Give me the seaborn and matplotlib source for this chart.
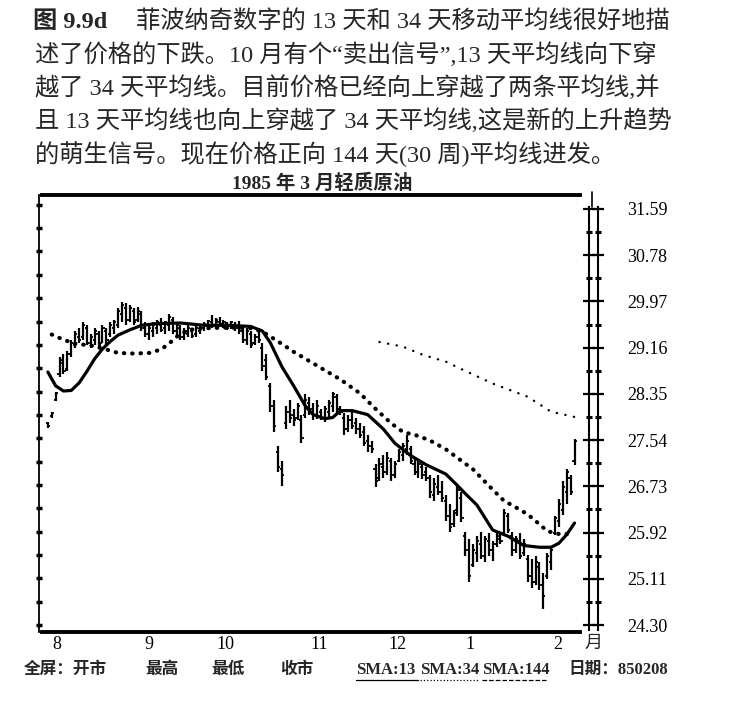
import matplotlib

matplotlib.use("Agg")
import matplotlib.pyplot as plt
import numpy as np
import pandas as pd
import seaborn as sns
from matplotlib.lines import Line2D

# bar data, one entry per trading day (Aug 1984 - Feb 8 1985)
highs = [
    27.82, 28.00, 28.35, 28.95, 29.00, 29.05, 29.25, 29.40, 29.45, 29.55,
    29.50, 29.35, 29.45, 29.40, 29.50, 29.45, 29.55, 29.60, 29.80, 29.90,
    29.88, 29.85, 29.80, 29.82, 29.75, 29.55, 29.50, 29.55, 29.60, 29.62,
    29.58, 29.70, 29.65, 29.55, 29.50, 29.45, 29.50, 29.45, 29.48, 29.52,
    29.55, 29.60, 29.68, 29.62, 29.65, 29.60, 29.55, 29.58, 29.55, 29.58,
    29.50, 29.45, 29.40, 29.35, 29.45, 29.20, 29.00, 28.50, 28.20, 27.40,
    27.15, 28.10, 28.20, 28.05, 28.15, 27.95, 28.30, 28.25, 28.15, 28.20,
    28.05, 28.10, 28.20, 28.35, 28.30, 28.10, 27.98, 27.95, 28.00, 27.90,
    27.80, 27.75, 27.60, 27.50, 27.10, 27.20, 27.25, 27.30, 27.20, 27.15,
    27.35, 27.45, 27.60, 27.40, 27.18, 27.15, 27.10, 27.05, 26.91, 26.85,
    26.90, 26.80, 26.56, 26.40, 26.30, 26.73, 26.60, 25.92, 25.80, 25.70,
    25.85, 25.92, 25.85, 25.90, 25.75, 25.92, 25.88, 26.32, 26.25, 25.92,
    25.85, 25.90, 25.80, 25.52, 25.45, 25.50, 25.40, 25.20, 25.55, 25.65,
    26.20, 26.49, 26.80, 27.01, 26.90, 27.53,
]
lows = [
    27.72, 27.90, 28.18, 28.60, 28.65, 28.70, 28.95, 29.10, 29.20, 29.25,
    29.15, 29.10, 29.15, 29.10, 29.20, 29.15, 29.30, 29.35, 29.45, 29.55,
    29.50, 29.55, 29.50, 29.55, 29.40, 29.30, 29.25, 29.30, 29.35, 29.38,
    29.35, 29.40, 29.35, 29.30, 29.25, 29.25, 29.30, 29.28, 29.30, 29.35,
    29.40, 29.42, 29.45, 29.45, 29.48, 29.45, 29.42, 29.44, 29.40, 29.35,
    29.20, 29.15, 29.10, 29.15, 29.20, 28.70, 28.55, 28.00, 27.65, 26.95,
    26.72, 27.70, 27.80, 27.75, 27.85, 27.45, 27.90, 27.95, 27.85, 27.88,
    27.85, 27.83, 27.90, 28.00, 27.97, 27.95, 27.60, 27.65, 27.70, 27.62,
    27.55, 27.40, 27.30, 27.28, 26.70, 26.80, 26.85, 26.90, 26.80, 26.85,
    27.13, 27.15, 27.25, 27.10, 26.90, 26.85, 26.84, 26.80, 26.50, 26.45,
    26.55, 26.44, 26.10, 25.92, 26.00, 26.20, 26.09, 25.50, 25.05, 25.30,
    25.40, 25.45, 25.40, 25.50, 25.42, 25.65, 25.70, 25.86, 25.90, 25.50,
    25.55, 25.45, 25.50, 25.05, 24.95, 25.00, 24.90, 24.58, 25.10, 25.25,
    25.86, 26.00, 26.21, 26.40, 26.55, 27.08,
]
opens = [
    27.80, 27.92, 28.20, 28.65, 28.85, 28.75, 29.00, 29.15, 29.30, 29.30,
    29.45, 29.20, 29.25, 29.35, 29.20, 29.40, 29.35, 29.45, 29.50, 29.70,
    29.80, 29.60, 29.75, 29.60, 29.70, 29.45, 29.35, 29.40, 29.45, 29.50,
    29.45, 29.50, 29.60, 29.40, 29.45, 29.30, 29.35, 29.40, 29.35, 29.40,
    29.45, 29.50, 29.55, 29.50, 29.55, 29.50, 29.52, 29.48, 29.50, 29.45,
    29.40, 29.25, 29.35, 29.20, 29.30, 29.10, 28.90, 28.45, 28.10, 27.30,
    27.00, 27.80, 28.00, 27.95, 27.90, 27.85, 27.95, 28.15, 28.05, 27.95,
    28.00, 27.90, 28.00, 28.10, 28.25, 28.05, 27.90, 27.70, 27.85, 27.80,
    27.70, 27.65, 27.50, 27.40, 27.00, 26.85, 27.05, 26.95, 27.15, 26.90,
    27.15, 27.25, 27.35, 27.35, 27.10, 26.95, 27.05, 26.95, 26.85, 26.55,
    26.70, 26.60, 26.45, 26.20, 26.05, 26.30, 26.50, 25.85, 25.60, 25.35,
    25.55, 25.70, 25.50, 25.75, 25.60, 25.70, 25.80, 25.90, 26.20, 25.85,
    25.60, 25.75, 25.55, 25.45, 25.15, 25.05, 25.30, 25.00, 25.15, 25.40,
    25.90, 26.10, 26.30, 26.60, 26.85, 27.15,
]
closes = [
    27.75, 27.98, 28.32, 28.90, 28.70, 29.00, 29.20, 29.35, 29.25, 29.50,
    29.20, 29.30, 29.40, 29.15, 29.45, 29.25, 29.50, 29.55, 29.75, 29.85,
    29.60, 29.80, 29.55, 29.75, 29.45, 29.35, 29.45, 29.50, 29.55, 29.42,
    29.55, 29.65, 29.40, 29.50, 29.30, 29.40, 29.45, 29.32, 29.45, 29.50,
    29.52, 29.58, 29.48, 29.60, 29.52, 29.55, 29.45, 29.55, 29.45, 29.40,
    29.25, 29.40, 29.15, 29.30, 29.25, 28.80, 28.60, 28.10, 27.75, 27.05,
    26.90, 28.00, 27.90, 27.85, 28.10, 27.55, 28.20, 28.05, 27.95, 28.10,
    27.90, 28.05, 28.15, 28.30, 28.05, 28.00, 27.70, 27.85, 27.75, 27.70,
    27.60, 27.45, 27.40, 27.35, 26.80, 27.10, 26.95, 27.20, 26.90, 27.10,
    27.30, 27.40, 27.50, 27.15, 26.95, 27.10, 26.90, 26.85, 26.60, 26.75,
    26.60, 26.50, 26.20, 26.00, 26.25, 26.65, 26.15, 25.60, 25.15, 25.60,
    25.75, 25.50, 25.80, 25.60, 25.70, 25.85, 25.75, 26.25, 25.95, 25.60,
    25.80, 25.50, 25.70, 25.15, 25.05, 25.40, 25.00, 24.80, 25.50, 25.60,
    26.15, 26.40, 26.70, 26.95, 26.60, 27.50,
]

# moving averages (bar index, price)
sma13_day = [0, 2, 4, 6, 8, 10, 12, 14, 16, 18, 21, 24, 28, 34, 40, 46, 52, 55,
             57, 60, 63, 66, 68, 71, 73, 75, 78, 82, 86, 89, 93, 97, 102, 105,
             107, 110, 114, 118, 122, 126, 129, 131, 133, 135]
sma13_val = [28.69, 28.45, 28.36, 28.37, 28.50, 28.70, 28.92, 29.09, 29.22,
             29.33, 29.42, 29.50, 29.53, 29.54, 29.50, 29.50, 29.48, 29.40,
             29.20, 28.78, 28.45, 28.10, 27.95, 27.88, 27.90, 28.02, 28.02,
             27.95, 27.70, 27.45, 27.24, 27.08, 26.92, 26.72, 26.58, 26.38,
             25.95, 25.84, 25.68, 25.65, 25.65, 25.72, 25.87, 26.07]
sma34_day = [1, 4, 7, 11, 15, 18, 22, 26, 29, 31, 33, 36, 40, 46, 52, 55, 59,
             63, 67, 71, 75, 80, 84, 88, 91, 95, 98, 102, 106, 109, 113, 117,
             119, 123, 126, 128, 131, 134]
sma34_val = [29.34, 29.25, 29.18, 29.15, 29.08, 29.02, 29.01, 29.02, 29.08,
             29.18, 29.30, 29.42, 29.45, 29.46, 29.45, 29.39, 29.22, 29.04,
             28.88, 28.72, 28.56, 28.32, 28.05, 27.80, 27.65, 27.58, 27.50,
             27.35, 27.15, 27.00, 26.72, 26.45, 26.38, 26.22, 26.05, 25.93,
             25.88, 25.88]
sma144_day = [85, 91, 96, 102, 106, 114, 123, 129, 135]
sma144_val = [29.21, 29.13, 28.99, 28.87, 28.74, 28.49, 28.26, 28.00, 27.91]

month_pos = [2.3, 25.9, 45.6, 69.5, 89.7, 108.2, 130.8]
month_labels = ["8", "9", "10", "11", "12", "1", "2"]
price_labels = ["31.59", "30.78", "29.97", "29.16", "28.35",
                "27.54", "26.73", "25.92", "25.11", "24.30"]

caption = [
    "述了价格的下跌。10 月有个“卖出信号”,13 天平均线向下穿",
    "越了 34 天平均线。目前价格已经向上穿越了两条平均线,并",
    "且 13 天平均线也向上穿越了 34 天平均线,这是新的上升趋势",
    "的萌生信号。现在价格正向 144 天(30 周)平均线进发。",
]

sns.set_style("white")
plt.rcParams["font.family"] = ["Liberation Serif", "Noto Sans CJK SC"]
plt.rcParams["axes.unicode_minus"] = False

W, H = 736, 712
fig = plt.figure(figsize=(W / 100, H / 100), dpi=100)


def fx(px):
    return px / W


def fy(py):
    return 1 - py / H


ax = fig.add_axes([fx(42), fy(632), fx(580) - fx(42), fy(195) - fy(632)])

bars = pd.DataFrame({"high": highs, "low": lows, "open": opens, "close": closes})
bars["day"] = np.arange(len(bars))

ax.vlines(bars["day"], bars["low"], bars["high"], color="black", lw=1.6)
ax.hlines(bars["open"], bars["day"] - 0.55, bars["day"], color="black", lw=1.3)
ax.hlines(bars["close"], bars["day"], bars["day"] + 0.55, color="black", lw=1.3)

sns.lineplot(x=sma13_day, y=sma13_val, ax=ax, color="black", linewidth=2.3,
             legend=False)
sns.lineplot(x=sma34_day, y=sma34_val, ax=ax, color="black", linewidth=3.0,
             linestyle=(0, (0.1, 1.9)), dash_capstyle="round", legend=False)
sns.lineplot(x=sma144_day, y=sma144_val, ax=ax, color="black", linewidth=1.7,
             linestyle=(0, (0.1, 3.6)), dash_capstyle="round", legend=False)

price_vals = [float(v) for v in price_labels]
half_steps = [(a + b) / 2 for a, b in zip(price_vals[:-1], price_vals[1:])]

ax.set_xlim(-1.5, 136.4)
ax.set_ylim(24.18, 31.76)
ax.set_xlabel("")
ax.set_ylabel("")
ax.set_xticks(month_pos)
ax.set_xticklabels(month_labels, fontsize=13)
ax.set_yticks(sorted(price_vals + half_steps))
ax.set_yticklabels([])
ax.tick_params(axis="x", direction="in", length=5, width=1.3, pad=3,
               colors="black")
ax.tick_params(axis="y", direction="inout", length=5, width=2.5, left=True,
               right=False, colors="black")
for side in ["top", "bottom"]:
    ax.spines[side].set_linewidth(2.8)
    ax.spines[side].set_color("black")
ax.spines["left"].set_linewidth(1.3)
ax.spines["left"].set_color("black")
ax.spines["left"].set_position(("outward", 2))
ax.spines["right"].set_visible(False)

# right-hand price scale (double rail)
rax = fig.add_axes([fx(589), fy(630), fx(598) - fx(589), fy(207) - fy(630)])
rax.set_ylim(24.30 - 5 / 46.7 * 0.81, 31.59 + 2 / 46.7 * 0.81)
rax.set_xticks([])
rax.set_yticks(price_vals)
rax.set_yticklabels(price_labels, fontsize=13)
rax.set_yticks(half_steps, minor=True)
rax.tick_params(axis="y", which="major", direction="inout", length=8,
                width=1.6, left=True, right=True, labelleft=False,
                labelright=True, pad=17, colors="black")
rax.tick_params(axis="y", which="minor", direction="inout", length=4,
                width=2.2, left=True, right=True, colors="black")
for side in ["top", "bottom"]:
    rax.spines[side].set_visible(False)
for side in ["left", "right"]:
    rax.spines[side].set_linewidth(1.5)
    rax.spines[side].set_color("black")
rax.set_facecolor("none")
fig.add_artist(Line2D([fx(592), fx(592)], [fy(207), fy(192)], color="black",
                      lw=1.2))

fig.text(fx(593), fy(643), "月", fontsize=13, ha="center", va="center")

# caption above the chart
fig.text(fx(33), fy(22), "图 9.9d", fontsize=17.5, fontweight="bold",
         ha="left", va="center")
fig.text(fx(136), fy(22), "菲波纳奇数字的 13 天和 34 天移动平均线很好地描",
         fontsize=17.5, ha="left", va="center")
for k, line in enumerate(caption):
    fig.text(fx(35), fy(55 + 33 * k), line, fontsize=17.5, ha="left",
             va="center")

fig.text(fx(322), fy(183), "1985 年 3 月轻质原油", fontsize=14,
         fontweight="bold", ha="center", va="center")

# footer
footer = [(24, "全屏：开市"), (145, "最高"), (211, "最低"), (280, "收市"),
          (356, "SMA:13"), (420, "SMA:34"), (482, "SMA:144"),
          (568, "日期：850208")]
for px, label in footer:
    fig.text(fx(px), fy(670), label, fontsize=12, fontweight="bold",
             ha="left", va="center")
for x0, x1, ls in [(356, 418, "-"), (420, 478, ":"), (482, 546, "--")]:
    fig.add_artist(Line2D([fx(x0), fx(x1)], [fy(680), fy(680)], color="black",
                          lw=0.9, linestyle=ls))

fig.savefig("out.png", dpi=100, facecolor="white")
